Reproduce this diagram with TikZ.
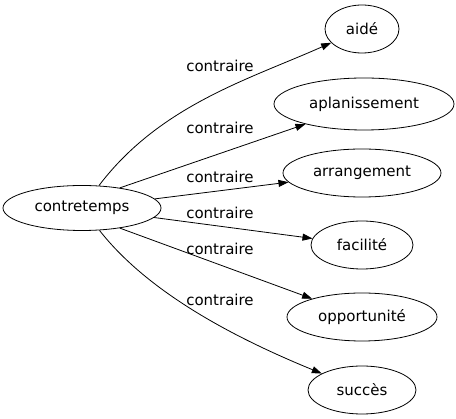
\documentclass[tikz,border=0pt]{standalone}
\usepackage{fontspec}
\setmainfont{DejaVu Sans}
\usetikzlibrary{shapes.geometric,arrows.meta}
\begin{document}
\begin{tikzpicture}[x=1pt,y=-1pt,
  every node/.style={font=\fontsize{15}{18}\selectfont},
  word/.style={draw,ellipse,inner sep=0pt,line width=0.8pt},
  lbl/.style={inner sep=0pt},
  rel/.style={line width=0.8pt,-{Triangle[length=10pt,width=7pt]}}]
\useasboundingbox (0,0) rectangle (456,419);
\node[word,minimum width=158pt,minimum height=45pt] (c) at (82,208) {contretemps};
\node[word,minimum width=74pt,minimum height=48pt] (aide) at (362,29) {aidé};
\node[word,minimum width=180pt,minimum height=52pt] (apl) at (364,104) {aplanissement};
\node[word,minimum width=158pt,minimum height=48pt] (arr) at (362,173) {arrangement};
\node[word,minimum width=102pt,minimum height=48pt] (fac) at (362,245) {facilité};
\node[word,minimum width=150pt,minimum height=48pt] (opp) at (362,317) {opportunité};
\node[word,minimum width=108pt,minimum height=48pt] (suc) at (362,390) {succès};
\node[lbl] (l1) at (220,66) {contraire};
\node[lbl] (l2) at (220,128) {contraire};
\node[lbl] (l3) at (220,177) {contraire};
\node[lbl] (l4) at (220,213) {contraire};
\node[lbl] (l5) at (220,249) {contraire};
\node[lbl] (l6) at (220,300) {contraire};
\draw[rel] (c) .. controls (160,105) and (250,79) .. (aide);
\draw[rel] (c.28) -- (apl);
\draw[rel] (c) -- (arr);
\draw[rel] (c) -- (fac);
\draw[rel] (c.-28) -- (opp);
\draw[rel] (c) .. controls (150,295) and (240,340) .. (suc);
\end{tikzpicture}
\end{document}
